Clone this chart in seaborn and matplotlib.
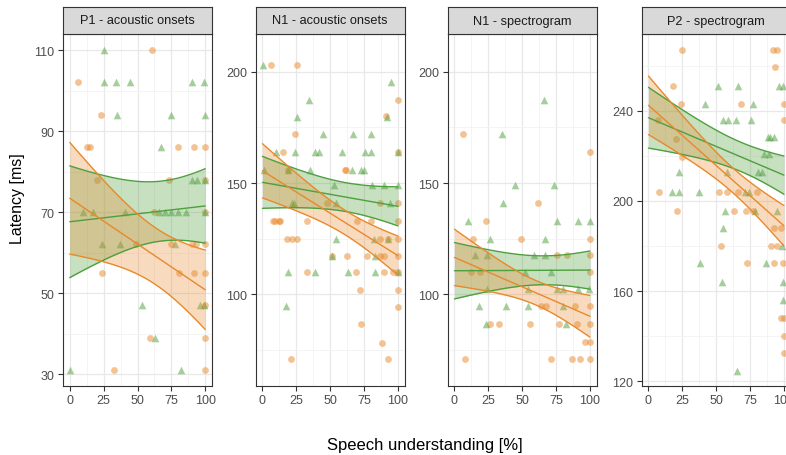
import numpy as np
import pandas as pd
import matplotlib
matplotlib.use("Agg")
import matplotlib.pyplot as plt
import seaborn as sns

sns.set_style("white")
plt.rcParams['font.family'] = ['Liberation Sans', 'DejaVu Sans']

panel_titles = ["P1 - acoustic onsets", "N1 - acoustic onsets", "N1 - spectrogram", "P2 - spectrogram"]
x_label = "Speech understanding [%]"
y_label = "Latency [ms]"
x_ticks = [0, 25, 50, 75, 100]
y_ticks = [[30, 50, 70, 90, 110], [100, 150, 200], [100, 150, 200], [120, 160, 200, 240]]
y_minor = [[40, 60, 80, 100], [75, 125, 175], [75, 125, 175], [140, 180, 220, 260]]
y_limits = [(27.05, 113.95), (58.6, 217.1), (58.6, 217.1), (117.8, 274.2)]

# ---- points (orange circles / green triangles), per panel ----
p1_orange_x = [6, 61, 23, 13, 15, 80, 92, 100, 20, 73, 100, 62, 100, 49, 75, 90, 93, 100, 24, 81, 92, 100, 100, 59, 100, 33, 100]
p1_orange_y = [102, 110, 94, 86, 86, 86, 86, 86, 78, 78, 78, 70, 70, 62, 62, 62, 62, 62, 55, 55, 55, 55, 47, 39, 39, 31, 31]
p1_green_x = [25, 25.5, 34, 44.5, 90, 99, 35, 75, 100, 67, 90, 94, 100, 10, 17, 41, 66, 70, 75, 80, 86, 100, 24, 37, 78, 53, 96, 99, 63, 0, 82]
p1_green_y = [110, 102, 102, 102, 102, 102, 94, 94, 94, 86, 78, 78, 78, 70, 70, 70, 70, 70, 70, 70, 70, 70, 62, 62, 62, 47, 47, 47, 39, 31, 31]

p2_orange_x = [6, 25.6, 100, 24, 91, 15, 100, 61, 48, 87, 100, 8, 12, 33, 70, 80, 100, 9.5, 13, 18, 21.7, 25.3, 87, 93, 100,
               51, 62.5, 77, 87, 90, 100, 33, 69, 90, 96, 100, 72, 100, 100, 73, 88, 21, 93, 19, 62]
p2_orange_y = [203, 203, 187.4, 172, 180, 164, 164, 156, 141, 141, 141, 133, 133, 133, 133, 133, 133, 133, 133, 125, 125, 125, 125, 125, 125,
               117, 117, 117, 117, 117, 117, 110, 110, 110, 110, 110, 102, 102, 94, 86.5, 78, 70.7, 70.7, 156, 156]
p2_green_x = [0.5, 94.7, 34.5, 25.6, 92, 44.6, 67, 80, 10, 24, 39, 42, 59, 76, 80, 100, 1, 19, 35, 66, 73, 75, 53, 81, 90, 100,
              23, 54.5, 21.5, 94, 54.5, 82, 93, 51, 83, 19, 38.5, 63.5, 83, 100, 17]
p2_green_y = [203, 195.4, 187.4, 179.6, 179.6, 172, 172, 172, 164, 164, 164, 164, 164, 164, 164, 164, 156, 156, 156, 156, 156, 156, 149, 149, 149, 149,
              141, 141, 141, 141, 125, 125, 125, 117, 117, 110, 110, 110, 110, 110, 94.5]

p3_orange_x = [6, 100, 62, 23, 13.5, 49, 100, 75.5, 83, 100, 12, 18.5, 100, 64, 67.5, 89, 100, 26, 33, 56, 77, 90.5, 100, 96.5, 100, 8, 71, 87, 92.5, 100]
p3_orange_y = [172, 164, 141, 133, 125, 125, 125, 117.6, 117.6, 117.6, 110, 110, 110, 94.5, 94.5, 94.5, 94.5, 86.5, 86.5, 86.5, 86.5, 86.5, 86.5, 78.5, 78.5, 70.7, 70.7, 70.7, 70.7, 70.7]
p3_green_x = [66, 35, 45, 73.5, 36, 10, 76, 91, 100, 26, 67, 15.5, 24, 58.5, 67, 52, 71.5, 24, 54, 75.5, 80, 91.5, 99, 18, 38, 54, 80, 23, 82]
p3_green_y = [187.4, 172, 149, 149, 141, 133, 133, 133, 133, 125, 125, 117.6, 117.6, 117.6, 117.6, 110, 110, 102.3, 102.3, 102.3, 102.3, 102.3, 102.3, 94.5, 94.5, 94.5, 94.5, 86.5, 86.5]

p4_orange_x = [25, 92, 95, 93.5, 18, 24, 68, 100, 7, 100, 20, 25, 8, 52, 58, 66, 80, 21, 72, 63, 77, 93, 98, 53.6, 90.5, 95, 72.5, 92.5, 99, 98, 100, 100, 100]
p4_orange_y = [267, 267, 267, 259.4, 251, 243, 243, 243, 236, 236, 227.5, 219.5, 204, 204, 204, 204, 204, 195.7, 195.7, 195.7, 195.7, 188, 188, 180, 180, 180, 172.4, 172.4, 172.4, 148, 148, 140, 132.5]
p4_green_x = [51.5, 66, 96, 99, 42, 77.5, 55, 59, 64.5, 76, 88, 90, 93, 85, 89, 22.5, 58, 80.5, 84, 17, 22.5, 37, 71, 74, 56.5, 79, 95, 55, 98.6, 38, 87, 54, 99, 99, 65]
p4_green_y = [251, 251, 251, 251, 243, 243, 236, 236, 236, 236, 228.3, 228.3, 228.3, 221, 221, 213, 213, 213, 213, 204, 204, 204, 204, 204, 195.7, 195.7, 195.7, 188, 180, 172.4, 172.4, 164, 164, 156, 124.3]

# ---- linear fits with confidence bands ----
orange_fit_at0 = [73.4, 155.5, 116.5, 242.5]
orange_fit_at100 = [50.8, 117.3, 90.0, 189.0]
orange_ci_at0 = [13.8, 12.2, 12.7, 13.0]
orange_ci_at100 = [9.8, 8.8, 9.4, 9.0]
orange_ci_min = [7.0, 5.5, 5.5, 5.5]
green_fit_at0 = [67.6, 150.3, 110.5, 237.0]
green_fit_at100 = [71.5, 139.5, 110.8, 211.5]
green_ci_at0 = [13.8, 11.7, 12.7, 13.5]
green_ci_at100 = [9.2, 8.8, 8.6, 8.5]
green_ci_min = [7.4, 6.5, 6.5, 6.5]

ORANGE = "#E8892B"
GREEN = "#4E9F3D"

points = [
    (p1_orange_x, p1_orange_y, p1_green_x, p1_green_y),
    (p2_orange_x, p2_orange_y, p2_green_x, p2_green_y),
    (p3_orange_x, p3_orange_y, p3_green_x, p3_green_y),
    (p4_orange_x, p4_orange_y, p4_green_x, p4_green_y),
]


def band(c0, c1, h0, h1, hm, x):
    A = hm ** 2
    r = np.sqrt((h0 ** 2 - A) / (h1 ** 2 - A))
    xc = 100 * r / (1 + r)
    B = (h0 ** 2 - A) / xc ** 2
    center = c0 + (c1 - c0) * x / 100.0
    hw = np.sqrt(A + B * (x - xc) ** 2)
    return center, center - hw, center + hw


W, H = 786, 456
fig = plt.figure(figsize=(W / 100, H / 100), dpi=100)
lefts = [63, 255.7, 447.7, 641.7]
pw = 149
top_px, bot_px, strip_top = 35, 387, 8

xs = np.linspace(0, 100, 120)
for i in range(4):
    ax = fig.add_axes([lefts[i] / W, (H - bot_px) / H, pw / W, (bot_px - top_px) / H])
    ax.set_facecolor("white")
    ax.set_xlim(-5, 105)
    ax.set_ylim(*y_limits[i])
    ax.set_xticks(x_ticks)
    ax.set_xticks([12.5, 37.5, 62.5, 87.5], minor=True)
    ax.set_yticks(y_ticks[i])
    ax.set_yticks(y_minor[i], minor=True)
    ax.grid(True, which="major", color="#e8e8e8", lw=0.9)
    ax.grid(True, which="minor", color="#f2f2f2", lw=0.6)
    ax.set_axisbelow(True)
    for s in ax.spines.values():
        s.set_color("#333333")
        s.set_linewidth(0.8)
    ax.tick_params(axis="both", which="major", direction="out", length=3.5, width=0.8,
                   color="#333333", labelcolor="#4d4d4d", labelsize=9, pad=2.5,
                   bottom=True, left=True)
    ax.tick_params(axis="both", which="minor", length=0)

    ox, oy, gx, gy = points[i]
    df_o = pd.DataFrame({"x": ox, "y": oy})
    df_g = pd.DataFrame({"x": gx, "y": gy})
    sns.scatterplot(data=df_o, x="x", y="y", ax=ax, color=ORANGE, marker="o", s=24,
                    alpha=0.5, linewidth=0, zorder=2)
    sns.scatterplot(data=df_g, x="x", y="y", ax=ax, color=GREEN, marker="^", s=30,
                    alpha=0.5, linewidth=0, zorder=2)

    for col, a, fit in [
        (GREEN, 0.32, (green_fit_at0[i], green_fit_at100[i], green_ci_at0[i], green_ci_at100[i], green_ci_min[i])),
        (ORANGE, 0.3, (orange_fit_at0[i], orange_fit_at100[i], orange_ci_at0[i], orange_ci_at100[i], orange_ci_min[i])),
    ]:
        c, lo, hi = band(*fit, xs)
        ax.fill_between(xs, lo, hi, color=col, alpha=a, linewidth=0, zorder=3)
        for yy in (c, lo, hi):
            sns.lineplot(x=xs, y=yy, ax=ax, color=col, lw=1.0, zorder=4)

    ax.set_xlabel("")
    ax.set_ylabel("")

    sax = fig.add_axes([lefts[i] / W, (H - top_px) / H, pw / W, (top_px - strip_top) / H])
    sax.set_facecolor("#d9d9d9")
    sax.set_xticks([])
    sax.set_yticks([])
    for s in sax.spines.values():
        s.set_color("#333333")
        s.set_linewidth(0.8)
    sax.text(0.5, 0.5, panel_titles[i], ha="center", va="center", fontsize=9.2,
             color="#1a1a1a", transform=sax.transAxes)

fig.text(425 / W, 1 - 446 / H, x_label, ha="center", va="center", fontsize=12, color="black")
fig.text(18 / W, 1 - 199 / H, y_label, ha="center", va="center", rotation=90, fontsize=11.5, color="black")

fig.savefig("out.png", dpi=100)
